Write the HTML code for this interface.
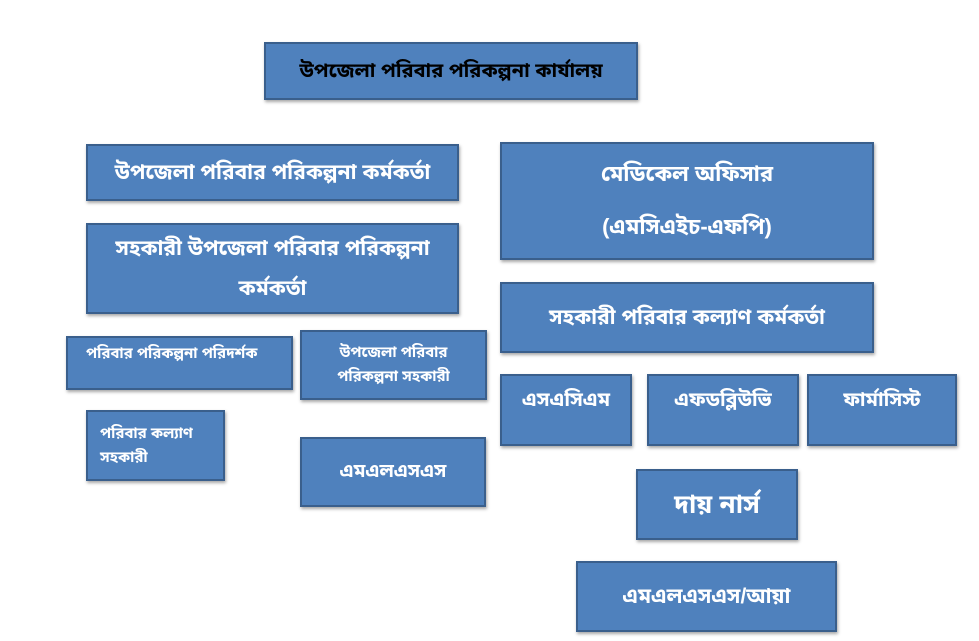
<!DOCTYPE html>
<html><head><meta charset="utf-8"><style>
body{margin:0;width:979px;height:641px;background:#fff;position:relative;overflow:hidden;font-family:"Liberation Sans","Noto Sans Bengali","Lohit Bengali","Noto Sans CJK SC",sans-serif}
.b{position:absolute;box-sizing:border-box;background:#4f81bd;border:2px solid #3a5f8c;color:#fff;display:flex;flex-direction:column;align-items:center;justify-content:center;text-align:center;box-shadow:1px 2px 3px rgba(0,0,0,.35);line-height:1.6;font-weight:bold}
</style></head><body>
<div class="b" style="left:264px;top:42px;width:374px;height:58px;color:#000;font-size:20px">উপজেলা পরিবার পরিকল্পনা কার্যালয়</div>
<div class="b" style="left:86px;top:144px;width:373px;height:57px;font-size:21px">উপজেলা পরিবার পরিকল্পনা কর্মকর্তা</div>
<div class="b" style="left:86px;top:223px;width:373px;height:91px;font-size:21px;line-height:1.9">সহকারী উপজেলা পরিবার পরিকল্পনা<br>কর্মকর্তা</div>
<div class="b" style="left:66px;top:336px;width:227px;height:54px;font-size:15px;align-items:flex-start;justify-content:flex-start;padding:4px 0 0 18px">পরিবার পরিকল্পনা পরিদর্শক</div>
<div class="b" style="left:300px;top:330px;width:187px;height:70px;font-size:15px">উপজেলা পরিবার<br>পরিকল্পনা সহকারী</div>
<div class="b" style="left:86px;top:410px;width:139px;height:71px;font-size:15px;align-items:flex-start;padding-left:12px;text-align:left">পরিবার কল্যাণ<br>সহকারী</div>
<div class="b" style="left:300px;top:437px;width:186px;height:70px;font-size:19px">এমএলএসএস</div>
<div class="b" style="left:500px;top:142px;width:374px;height:118px;font-size:22px;line-height:2.4">মেডিকেল অফিসার<br>(এমসিএইচ-এফপি)</div>
<div class="b" style="left:500px;top:282px;width:374px;height:71px;font-size:21px">সহকারী পরিবার কল্যাণ কর্মকর্তা</div>
<div class="b" style="left:500px;top:374px;width:132px;height:72px;font-size:20px;justify-content:flex-start;padding-top:8px">এসএসিএম</div>
<div class="b" style="left:647px;top:374px;width:152px;height:72px;font-size:20px;justify-content:flex-start;padding-top:8px">এফডব্লিউভি</div>
<div class="b" style="left:807px;top:374px;width:150px;height:72px;font-size:20px;justify-content:flex-start;padding-top:8px">ফার্মাসিস্ট</div>
<div class="b" style="left:636px;top:469px;width:162px;height:71px;font-size:26px">দায় নার্স</div>
<div class="b" style="left:576px;top:561px;width:261px;height:71px;font-size:21px">এমএলএসএস/আয়া</div>
</body></html>
